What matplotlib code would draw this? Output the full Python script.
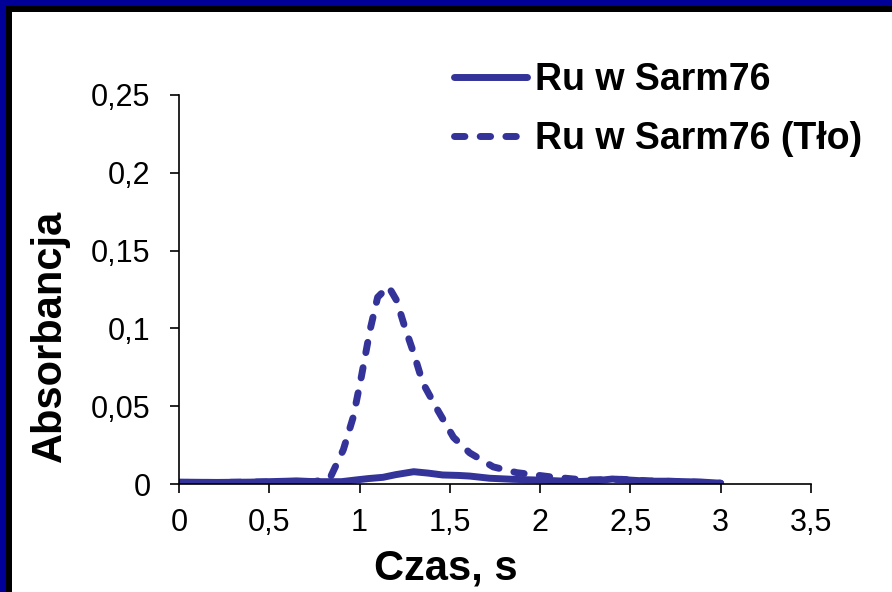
import matplotlib
matplotlib.use("Agg")
import matplotlib.pyplot as plt
from matplotlib.patches import Rectangle
from matplotlib.ticker import FixedLocator

# ---- data ----
x_sample = [0.0, 0.2, 0.4, 0.6, 0.65, 0.75, 0.9, 0.98, 1.05, 1.13, 1.2, 1.3, 1.38,
            1.46, 1.55, 1.61, 1.72, 1.85, 2.0, 2.1, 2.2, 2.3, 2.4, 2.5, 2.6, 2.7,
            2.8, 2.9, 3.0]
y_sample = [0.0012, 0.001, 0.0012, 0.0018, 0.002, 0.0015, 0.0015, 0.0026, 0.0035,
            0.0043, 0.006, 0.0079, 0.007, 0.0058, 0.0055, 0.0051, 0.0037, 0.003,
            0.0025, 0.002, 0.0015, 0.002, 0.0032, 0.0025, 0.0018, 0.0018, 0.0015,
            0.0012, 0.0005]

x_bg = [0.0, 0.2, 0.4, 0.6, 0.75, 0.836, 0.91, 0.965, 1.01, 1.058, 1.10, 1.16,
        1.205, 1.25, 1.30, 1.35, 1.43, 1.52, 1.61, 1.74, 1.87, 2.05, 2.24, 2.45,
        2.6, 2.8, 3.0]
y_bg = [0.001, 0.001, 0.0012, 0.0015, 0.0015, 0.0037, 0.022, 0.043, 0.069, 0.099,
        0.120, 0.127, 0.118, 0.101, 0.084, 0.065, 0.048, 0.030, 0.020, 0.011,
        0.0073, 0.0047, 0.0026, 0.003, 0.002, 0.0015, 0.0005]

labels = ["Ru w Sarm76", "Ru w Sarm76 (Tło)"]
x_ticks = [0, 0.5, 1, 1.5, 2, 2.5, 3, 3.5]
y_ticks = [0, 0.05, 0.1, 0.15, 0.2, 0.25]
x_tick_labels = ["0", "0,5", "1", "1,5", "2", "2,5", "3", "3,5"]
y_tick_labels = ["0", "0,05", "0,1", "0,15", "0,2", "0,25"]
x_title = "Czas, s"
y_title = "Absorbancja"

color = "#333399"
plt.rcParams['font.family'] = ['Liberation Sans', 'DejaVu Sans']

W, H = 892, 592
fig = plt.figure(figsize=(W / 100, H / 100), dpi=100)
fig.patch.set_facecolor("white")

# frame remnants (top and left)
fig.add_artist(Rectangle((0, 1 - 6 / H), 1, 6 / H, transform=fig.transFigure,
                         facecolor="#000099", edgecolor="none"))
fig.add_artist(Rectangle((0, 0), 6 / W, 1, transform=fig.transFigure,
                         facecolor="#000099", edgecolor="none"))
fig.add_artist(Rectangle((6 / W, 1 - 12 / H), 1, 6 / H, transform=fig.transFigure,
                         facecolor="black", edgecolor="none"))
fig.add_artist(Rectangle((6 / W, 0), 6 / W, 1 - 6 / H, transform=fig.transFigure,
                         facecolor="black", edgecolor="none"))

ax = fig.add_axes([179 / W, 1 - 484 / H, (811 - 179) / W, (484 - 95) / H])
ax.plot(x_sample, y_sample, color=color, lw=5, solid_capstyle="round",
        solid_joinstyle="round", label=labels[0])
ax.plot(x_bg, y_bg, color=color, lw=5, ls=(0, (1.5, 2.2)),
        dash_capstyle="round", label=labels[1])

ax.set_xlim(0, 3.5)
ax.set_ylim(0, 0.25)
ax.xaxis.set_major_locator(FixedLocator(x_ticks))
ax.yaxis.set_major_locator(FixedLocator(y_ticks))
ax.set_xticklabels(x_tick_labels)
ax.set_yticklabels(y_tick_labels)
ax.tick_params(axis="both", direction="out", length=6.5, width=1.2,
               labelsize=22, colors="black")
ax.tick_params(axis="y", pad=14)
ax.tick_params(axis="x", pad=11)
for s in ["top", "right"]:
    ax.spines[s].set_visible(False)
for s in ["left", "bottom"]:
    ax.spines[s].set_linewidth(1.2)
    ax.spines[s].set_color("black")
ax.patch.set_alpha(0)

fig.text(446 / W, 1 - 568 / H, x_title, fontsize=30, fontweight="bold",
         ha="center", va="center")
fig.text(50 / W, 1 - 336 / H, y_title, fontsize=30, fontweight="bold",
         ha="center", va="center", rotation=90)

leg = ax.legend(loc="upper left", bbox_to_anchor=(454 / W, 1 - 62 / H),
                bbox_transform=fig.transFigure, frameon=False,
                prop={"size": 27, "weight": "bold"}, handlelength=1.95,
                handletextpad=0.2, labelspacing=0.62, borderpad=0,
                borderaxespad=0)

fig.savefig("out.png", dpi=100)
